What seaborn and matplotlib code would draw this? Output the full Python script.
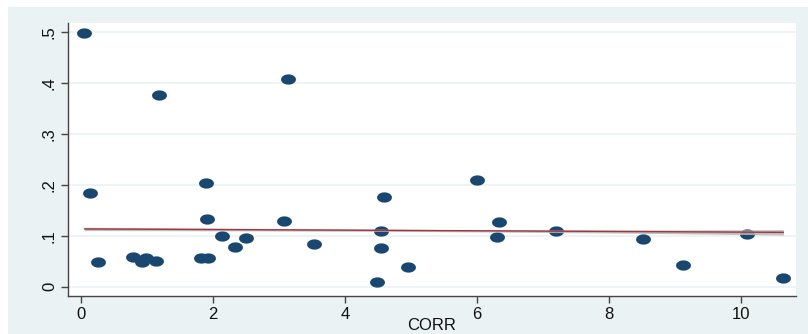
import numpy as np
import pandas as pd
import matplotlib
matplotlib.use("Agg")
import matplotlib.pyplot as plt
from matplotlib.path import Path
from matplotlib.patches import Rectangle
import seaborn as sns

corr = [0.05, 0.14, 0.26, 0.79, 0.92, 0.98, 1.14, 1.18, 1.82, 1.92, 1.89, 1.91,
        2.14, 2.33, 2.50, 3.08, 3.14, 3.53, 4.48, 4.55, 4.55, 4.59, 4.95, 6.00,
        6.30, 6.33, 7.20, 8.52, 9.12, 10.09, 10.64]
yval = [0.498, 0.184, 0.049, 0.059, 0.049, 0.057, 0.051, 0.376, 0.057, 0.057, 0.204, 0.133,
        0.100, 0.078, 0.096, 0.129, 0.408, 0.084, 0.010, 0.110, 0.076, 0.176, 0.039, 0.210,
        0.098, 0.127, 0.110, 0.094, 0.043, 0.104, 0.018]
# fitted line and its confidence band
fit_x = [0.05, 2.7, 5.3, 8.0, 10.64]
fit_y = [0.1137, 0.1121, 0.1105, 0.1088, 0.1070]
fit_lo = [0.1105, 0.1098, 0.1085, 0.1058, 0.1018]
fit_hi = [0.1170, 0.1146, 0.1126, 0.1115, 0.1122]
xticks = [0, 2, 4, 6, 8, 10]
yticks = [0, 0.1, 0.2, 0.3, 0.4, 0.5]
ytick_labels = ["0", ".1", ".2", ".3", ".4", ".5"]

df = pd.DataFrame({"CORR": corr, "y": yval})
fit = pd.DataFrame({"CORR": fit_x, "y": fit_y})

sns.set_style("white")
plt.rcParams["font.family"] = ["Liberation Sans", "DejaVu Sans"]

bg = "#eaf2f3"
navy = "#1a476f"

fig = plt.figure(figsize=(8.08, 3.34), dpi=100)
fig.patch.set_facecolor("white")
fig.patches.append(Rectangle((8 / 808, 0), 1, 1 - 7 / 334, transform=fig.transFigure,
                             facecolor=bg, edgecolor="none", zorder=-10))

ax = fig.add_axes([68 / 808, 38 / 334, (796 - 68) / 808, (296 - 23) / 334])
ax.set_zorder(5)
ax.set_facecolor("white")

# elliptical marker (wider than tall)
t = np.linspace(0, 2 * np.pi, 40)
ell = Path(np.column_stack([1.45 * np.cos(t), np.sin(t)]), closed=True)

for v in yticks:
    ax.axhline(v, color=bg, lw=1.2, zorder=1)

sns.scatterplot(data=df, x="CORR", y="y", ax=ax, color=navy, marker=ell, s=115,
                linewidth=0, zorder=3)
ax.fill_between(fit_x, fit_lo, fit_hi, color="#b4b4b4", alpha=0.85, lw=0, zorder=4)
sns.lineplot(data=fit, x="CORR", y="y", ax=ax, color="#a3333d", lw=1.0, zorder=5)

ax.set_xlim(-0.197, 10.83)
ax.set_ylim(-0.018, 0.518)
ax.set_xticks(xticks)
ax.set_xticklabels([str(v) for v in xticks])
ax.set_yticks(yticks)
ax.set_yticklabels(ytick_labels, rotation=90, va="center")

for s in ["top", "right"]:
    ax.spines[s].set_visible(False)
for s in ["left", "bottom"]:
    ax.spines[s].set_color("#444444")
    ax.spines[s].set_linewidth(1.0)
ax.tick_params(axis="both", direction="out", length=5, width=1, color="#444444",
               labelsize=12, labelcolor="#111111", pad=3)
ax.tick_params(axis="x", bottom=True)
ax.tick_params(axis="y", left=True)
ax.set_xlabel("CORR", fontsize=12, color="#111111")
ax.xaxis.set_label_coords(0.5, -(326 - 296) / 273, transform=ax.transAxes)
ax.xaxis.label.set_va("center")
ax.set_ylabel("")

fig.savefig("out.png", dpi=100, facecolor=fig.get_facecolor())
